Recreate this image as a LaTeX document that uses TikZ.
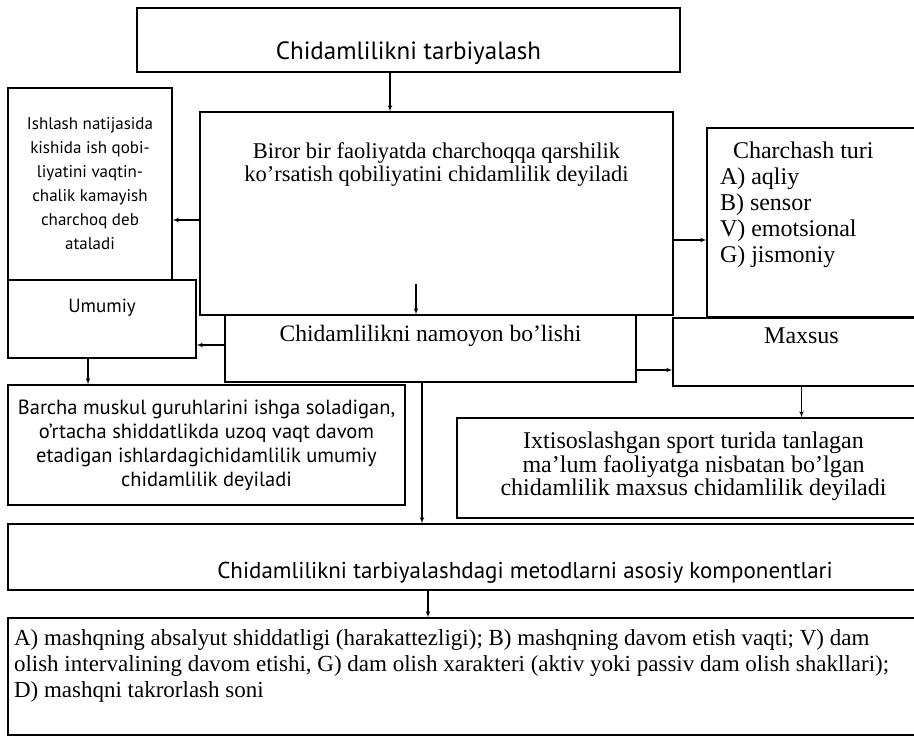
\documentclass[tikz,border=0pt]{standalone}
\usepackage{fontspec}
\setmainfont{Liberation Serif}
\setsansfont{PT Sans}
\usetikzlibrary{shapes,arrows}
\tikzstyle{block} = [rectangle, draw, line width=1.1pt, inner sep=0pt,
    font=\fontsize{21}{23}\selectfont]
\tikzstyle{sblock} = [block, font=\sffamily\fontsize{19}{23}\selectfont]
\tikzstyle{line} = [draw, line width=1.1pt, -latex']

\begin{document}
\begin{tikzpicture}[x=1pt, y=-1pt]
 \useasboundingbox (0,0) rectangle (914,743);
 \clip (0,0) rectangle (914,743);
 \node[sblock, font=\sffamily\fontsize{25}{28}\selectfont, minimum width=543pt, minimum height=64pt] (tarb) at (408.5,40) {\parbox[c][44pt][b]{520pt}{\centering Chidamlilikni tarbiyalash}};
 \node[block, font=\fontsize{22.5}{23}\selectfont, minimum width=473pt, minimum height=203pt] (main) at (436.5,213.5) {\parbox[c][141pt][t]{470pt}{\centering Biror bir faoliyatda charchoqqa qarshilik\\ ko'rsatish qobiliyatini chidamlilik deyiladi}};
 \node[sblock, font=\sffamily\fontsize{17}{24}\selectfont, align=center, minimum width=164pt, minimum height=192pt] (izoh) at (90,184) {Ishlash natijasida\\ kishida ish qobi-\\ liyatini vaqtin-\\ chalik kamayish\\ charchoq deb\\ ataladi};
 \node[block, font=\fontsize{24}{26}\selectfont, minimum width=223pt, minimum height=189pt] (charch) at (818.5,222.5) {\parbox[c][161pt][t]{197pt}{\hspace*{13pt}Charchash turi\\ A) aqliy\\ B) sensor\\ V) emotsional\\ G) jismoniy}};
 \node[block, font=\fontsize{23.5}{26}\selectfont, minimum width=411pt, minimum height=67pt] (namoyon) at (430.5,348.5) {\parbox[c][47pt][t]{400pt}{\centering Chidamlilikni namoyon bo'lishi}};
 \node[sblock, minimum width=188pt, minimum height=78pt] (umumiy) at (102,319) {\parbox[c][40pt][t]{170pt}{\centering Umumiy}};
 \node[block, font=\fontsize{24}{26}\selectfont, minimum width=257pt, minimum height=68pt] (maxsus) at (801.5,352) {\parbox[c][48pt][t]{240pt}{\centering Maxsus}};
 \node[sblock, font=\sffamily\fontsize{20.5}{24}\selectfont, align=center, minimum width=397pt, minimum height=120pt] (barcha) at (206.5,445) {Barcha muskul guruhlarini ishga soladigan,\\ o'rtacha shiddatlikda uzoq vaqt davom\\ etadigan ishlardagichidamlilik umumiy\\ chidamlilik deyiladi};
 \node[block, font=\fontsize{24}{23.5}\selectfont, minimum width=473pt, minimum height=100pt] (ixtis) at (693.5,468) {\parbox[c][72pt][t]{470pt}{\centering Ixtisoslashgan sport turida tanlagan\\ ma'lum faoliyatga nisbatan bo'lgan\\ chidamlilik maxsus chidamlilik deyiladi}};
 \node[sblock, font=\sffamily\fontsize{23}{26}\selectfont, minimum width=1034pt, minimum height=66pt] (metod) at (525,557) {\parbox[c][48pt][b]{1000pt}{\centering Chidamlilikni tarbiyalashdagi metodlarni asosiy komponentlari}};
 \node[block, font=\fontsize{23}{26}\selectfont, minimum width=1034pt, minimum height=117pt] (komp) at (525,676.5) {\parbox[c][93pt][t]{1022pt}{A) mashqning absalyut shiddatligi (harakattezligi); B) mashqning davom etish vaqti; V) dam\\ olish intervalining davom etishi, G) dam olish xarakteri (aktiv yoki passiv dam olish shakllari);\\ D) mashqni takrorlash soni}};

\path[line] ([xshift=-18.5pt]tarb.south) -- ([xshift=-18.5pt]tarb.south |- main.north);
\path[line] ([yshift=-6.5pt]main.west) -- ([yshift=-6.5pt]main.west -| izoh.east);
\path[line] ([yshift=-26.5pt]main.east) -- ([yshift=-26.5pt]main.east -| charch.west);
\path[line] ([xshift=-14.5pt,yshift=30pt]namoyon.north) -- ([xshift=-14.5pt]namoyon.north);
\path[line] ([yshift=3.5pt]namoyon.west) -- ([yshift=3.5pt]namoyon.west -| umumiy.east);
\path[line] ([yshift=-21.5pt]namoyon.east) -- ([yshift=-21.5pt]namoyon.east -| maxsus.west);
\path[line] ([xshift=-14pt]umumiy.south) -- ([xshift=-14pt]umumiy.south |- barcha.north);
\path[line] (maxsus.south) -- (maxsus.south |- ixtis.north);
\path[line] ([xshift=-8.5pt]namoyon.south) -- ([xshift=-8.5pt]namoyon.south |- metod.north);
\path[line] ([xshift=-97pt]metod.south) -- ([xshift=-97pt]metod.south |- komp.north);
\end{tikzpicture}
\end{document}
